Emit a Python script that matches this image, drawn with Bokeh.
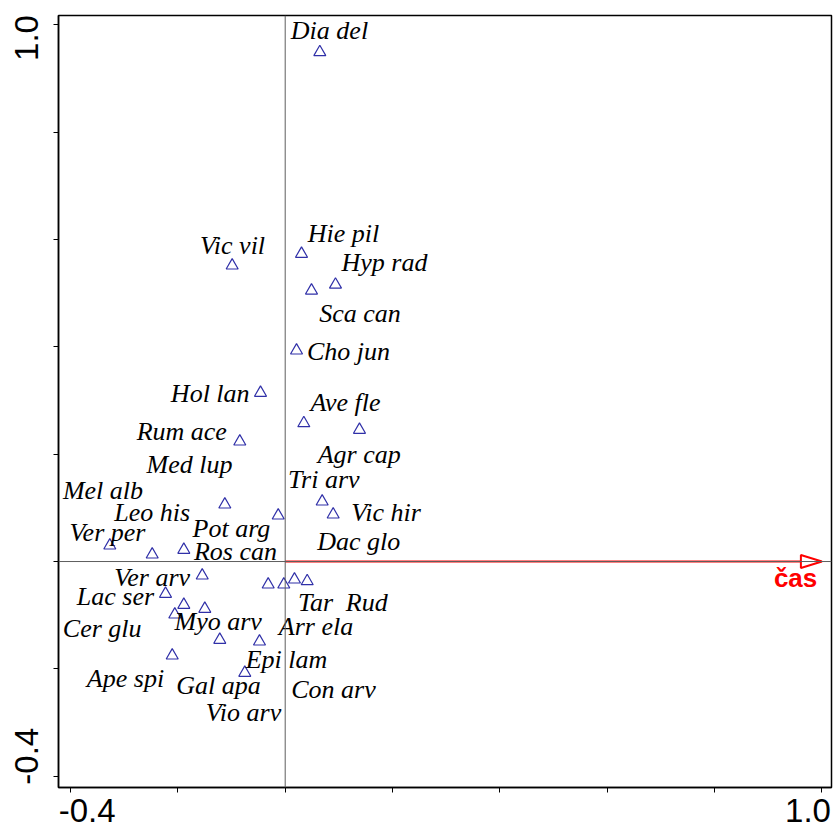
from bokeh.plotting import figure
from bokeh.models import Range1d, FixedTicker, Span
from bokeh.core.properties import value
from bokeh.embed import file_html
from bokeh.resources import INLINE

# ---------------- data ----------------
# species scores (triangles)
species_x = [0.0645, 0.0304, 0.0937, 0.0490, -0.0988, 0.0211, -0.0460, 0.0347,
             0.1384, -0.0846, 0.0689, 0.0894, -0.1125, -0.0130, -0.3268, -0.2478,
             -0.1889, -0.1546, -0.2230, -0.1889, -0.2057, -0.1498, -0.1219, -0.0479,
             -0.2105, -0.0753, -0.0317, -0.0026, 0.0173, 0.0410]
species_y = [0.9490, 0.5733, 0.5159, 0.5048, 0.5515, 0.3931, 0.3143, 0.2577,
             0.2454, 0.2236, 0.1118, 0.0876, 0.1062, 0.0857, 0.0298, 0.0130,
             0.0218, -0.0261, -0.0602, -0.0807, -0.0988, -0.0881, -0.1459, -0.1491,
             -0.1751, -0.2074, -0.0429, -0.0429, -0.0335, -0.0367]

# species labels (label anchor positions in data units)
label_names = ["Dia del", "Hie pil", "Hyp rad", "Sca can", "Vic vil", "Cho jun",
               "Hol lan", "Ave fle", "Agr cap", "Rum ace", "Tri arv", "Vic hir",
               "Dac glo", "Med lup", "Mel alb", "Leo his", "Ver per", "Pot arg",
               "Ros can", "Ver arv", "Lac ser", "Cer glu", "Myo arv", "Ape spi",
               "Gal apa", "Vio arv", "Epi lam", "Con arv", "Arr ela", "Tar", "Rud"]
label_x = [0.0825, 0.1086, 0.1850, 0.1394, -0.0982, 0.1179,
           -0.1397, 0.1124, 0.1379, -0.1927, 0.0719, 0.1878,
           0.1371, -0.1783, -0.3395, -0.2478, -0.3311, -0.1001,
           -0.0926, -0.2478, -0.3162, -0.3410, -0.1248, -0.2976,
           -0.1243, -0.0777, 0.0024, 0.0900, 0.0574, 0.0565, 0.1520]
label_y = [0.9894, 0.6111, 0.5571, 0.4621, 0.5888, 0.3913,
           0.3130, 0.2957, 0.1994, 0.2422, 0.1528, 0.0919,
           0.0373, 0.1807, 0.1323, 0.0919, 0.0546, 0.0620,
           0.0186, -0.0293, -0.0652, -0.1254, -0.1118, -0.2186,
           -0.2310, -0.2808, -0.1832, -0.2385, -0.1211, -0.0758, -0.0758]

# environmental variable (arrow)
env_names = ["čas"]
env_x = [1.0]
env_y = [0.0]

# axes
tick_values = [-0.4, -0.2, 0.0, 0.2, 0.4, 0.6, 0.8, 1.0]
labelled_ticks = [-0.4, 1.0]
labelled_text = ["-0.4", "1.0"]

# ---------------- layout ----------------
W, H = 833, 830
BL, BR, BT, BB = 58, 2, 15, 43
XR = (-0.4224, 1.0179)
YR = (-0.4210, 1.0173)
PX = (W - BL - BR) / (XR[1] - XR[0])
PY = (H - BT - BB) / (YR[1] - YR[0])

p = figure(width=W, height=H, x_range=Range1d(*XR), y_range=Range1d(*YR),
           output_backend="svg", toolbar_location=None,
           min_border_left=BL, min_border_right=BR, min_border_top=BT,
           min_border_bottom=BB, background_fill_color="white",
           border_fill_color="white")
p.xgrid.visible = False
p.ygrid.visible = False
p.outline_line_color = "black"
p.outline_line_width = 1.5

# label positions are nudged (in pixels) away from the tick marks, as in the
# original, so that the labels stay inside the frame span
x_nudge = [16.7, -13.9]
y_nudge = [20.0, -13.2]
x_label_pos = [t + n / PX for t, n in zip(labelled_ticks, x_nudge)]
y_label_pos = [t + n / PY for t, n in zip(labelled_ticks, y_nudge)]

xa = p.xaxis[0]
ya = p.yaxis[0]
xa.ticker = FixedTicker(ticks=x_label_pos, minor_ticks=tick_values)
ya.ticker = FixedTicker(ticks=y_label_pos, minor_ticks=tick_values)
xa.major_label_overrides = {pos: s for pos, s in zip(x_label_pos, labelled_text)}
ya.major_label_overrides = {pos: s for pos, s in zip(y_label_pos, labelled_text)}
ya.major_label_orientation = "vertical"
xa.major_label_standoff = 6
ya.major_label_standoff = 15
for ax in (xa, ya):
    ax.major_tick_out = 0
    ax.major_tick_in = 0
    ax.minor_tick_out = 5
    ax.minor_tick_in = 0
    ax.minor_tick_line_color = "black"
    ax.minor_tick_line_width = 1
    ax.axis_line_color = "black"
    ax.axis_line_width = 1.5
    ax.major_label_text_font = "Liberation Sans"
    ax.major_label_text_font_size = "33px"
    ax.major_label_text_color = "black"

# zero lines
p.add_layout(Span(location=0, dimension="height", line_color="#5e5e5e", line_width=1))
p.add_layout(Span(location=0, dimension="width", line_color="#5e5e5e", line_width=1))

# arrow for environmental variable
head_len = 21 / PX
head_half = 6.5 / PY
for ex, ey in zip(env_x, env_y):
    bx = ex - head_len
    p.segment(x0=[0], y0=[0], x1=[bx], y1=[ey], line_color="red", line_width=2)
    p.patch(x=[bx, ex, bx], y=[ey + head_half, ey, ey - head_half],
            fill_color="white", line_color="red", line_width=2)

# species triangles
p.scatter(species_x, species_y, marker="triangle", size=12, fill_color=None,
          line_color="#3030a8", line_width=1.2)

# species labels
p.text(label_x, label_y, text=label_names, text_font=value("Liberation Serif"),
       text_font_style="italic", text_font_size="26px", text_color="black",
       text_align="center", text_baseline="middle")

# env label
p.text([env_x[0] - 26.3 / PX], [env_y[0] - 16 / PY], text=env_names,
       text_font=value("Liberation Sans"), text_font_style="bold",
       text_font_size="26px", text_color="red", text_align="center",
       text_baseline="middle")

open("out.html", "w").write(file_html(p, INLINE))
